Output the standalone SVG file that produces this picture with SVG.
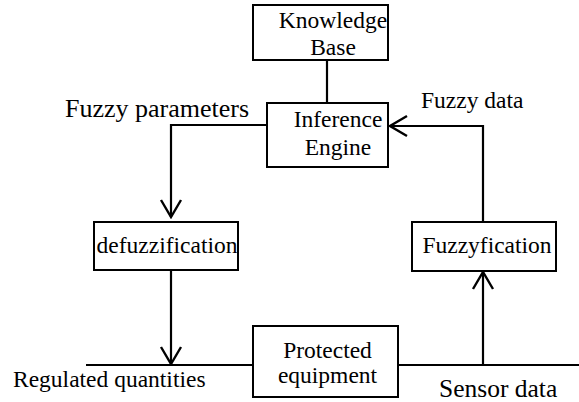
<svg xmlns="http://www.w3.org/2000/svg" width="579" height="402" viewBox="0 0 579 402">
  <style>
    .box { fill: #ffffff; stroke: #000000; stroke-width: 2; }
    .lbl { font-family: "Liberation Serif", "Times New Roman", serif; font-size: 23.5px; fill: #000000; }
    .mid { text-anchor: middle; }
    .conn { fill: none; stroke: #000000; stroke-width: 2.2; }
  </style>
  <defs>
    <marker id="arrow" viewBox="-20 -12 22 24" markerWidth="22" markerHeight="24" refX="0" refY="0" orient="auto" markerUnits="userSpaceOnUse">
      <path d="M-17,-10 L0,0 L-17,10" fill="none" stroke="#000000" stroke-width="2.4"/>
    </marker>
  </defs>
  <rect width="579" height="402" fill="#ffffff"/>

  <g id="connectors">
    <path class="conn" d="M327,60 V103"/>
    <path class="conn" d="M267,125 H171 V217" marker-end="url(#arrow)"/>
    <path class="conn" d="M171,270 V364" marker-end="url(#arrow)"/>
    <path class="conn" d="M86,365 H253"/>
    <path class="conn" d="M398,365 H579"/>
    <path class="conn" d="M483,365 V272" marker-end="url(#arrow)"/>
    <path class="conn" d="M483,222 V126 H390" marker-end="url(#arrow)"/>
  </g>

  <g id="knowledge-base">
    <rect class="box" x="253" y="5" width="135" height="55"/>
    <text class="lbl mid" x="333" y="28">Knowledge</text>
    <text class="lbl mid" x="333" y="55">Base</text>
  </g>

  <g id="inference-engine">
    <rect class="box" x="267" y="103" width="121" height="64"/>
    <text class="lbl mid" x="338" y="127">Inference</text>
    <text class="lbl mid" x="338" y="155">Engine</text>
  </g>

  <g id="defuzzification">
    <rect class="box" x="94" y="222" width="144" height="48"/>
    <text class="lbl mid" x="167" y="253">defuzzification</text>
  </g>

  <g id="fuzzyfication">
    <rect class="box" x="412" y="222" width="144" height="49"/>
    <text class="lbl mid" x="487" y="253">Fuzzyfication</text>
  </g>

  <g id="protected-equipment">
    <rect class="box" x="253" y="326" width="145" height="71"/>
    <text class="lbl mid" x="327.5" y="358">Protected</text>
    <text class="lbl mid" x="327.5" y="383">equipment</text>
  </g>

  <g id="labels">
    <text class="lbl" x="65" y="117" style="font-size:26px">Fuzzy parameters</text>
    <text class="lbl" x="421" y="108">Fuzzy data</text>
    <text class="lbl" x="13" y="387">Regulated quantities</text>
    <text class="lbl" x="439" y="397" style="font-size:25.5px">Sensor data</text>
  </g>
</svg>
